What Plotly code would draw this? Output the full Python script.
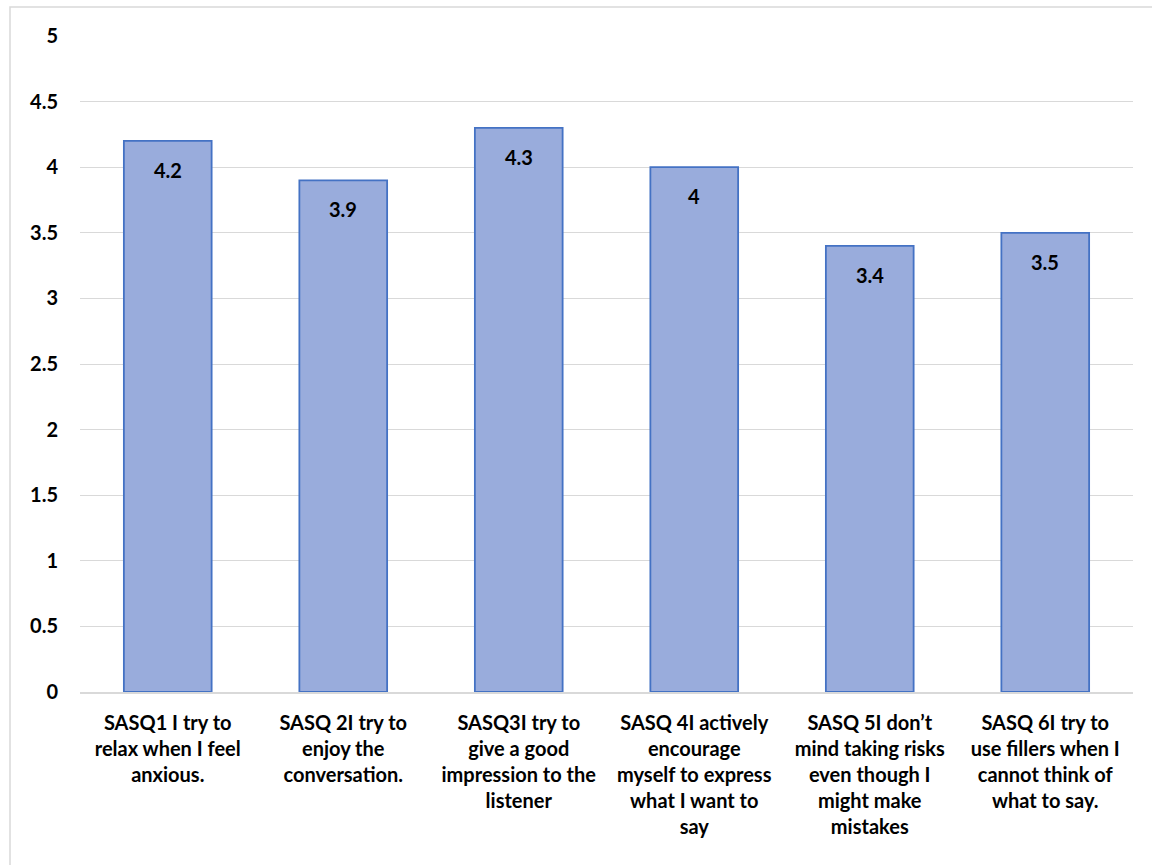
import plotly.graph_objects as go

# Survey items (x categories) and their mean scores
categories = [
    "SASQ1 I try to<br>relax when I feel<br>anxious.",
    "SASQ 2I try to<br>enjoy the<br>conversation.",
    "SASQ3I try to<br>give a good<br>impression to the<br>listener",
    "SASQ 4I actively<br>encourage<br>myself to express<br>what I want to<br>say",
    "SASQ 5I don\u2019t<br>mind taking risks<br>even though I<br>might make<br>mistakes",
    "SASQ 6I try to<br>use fillers when I<br>cannot think of<br>what to say.",
]
scores = [4.2, 3.9, 4.3, 4.0, 3.4, 3.5]
y_ticks = [0, 0.5, 1, 1.5, 2, 2.5, 3, 3.5, 4, 4.5, 5]

FONT = "Lato, 'Liberation Sans', sans-serif"
W, H = 1152, 865
ML, MR, MT, MB = 80, 19, 36, 173

fig = go.Figure(
    go.Bar(
        x=categories,
        y=scores,
        width=0.5,
        marker=dict(color="#99ACDC", line=dict(color="#4472C4", width=1.8)),
        hoverinfo="x+y",
    )
)

# Value labels placed just inside the top of each bar
for cat, val in zip(categories, scores):
    fig.add_annotation(
        x=cat, y=val, text=f"<b>{val:g}</b>", showarrow=False,
        yanchor="middle", yshift=-29,
        font=dict(family=FONT, size=20, color="#000000"),
    )

# Light grey outer chart frame
pw, ph = W - ML - MR, H - MT - MB
fig.add_shape(
    type="rect", xref="paper", yref="paper",
    x0=(10 - ML) / pw, x1=(W + 10 - ML) / pw,
    y0=-(H + 10 - MT - ph) / ph, y1=(H - 7 - MB) / ph,
    line=dict(color="#D9D9D9", width=1.5), fillcolor="rgba(0,0,0,0)",
    layer="below",
)

fig.update_layout(
    width=W, height=H,
    margin=dict(l=ML, r=MR, t=MT, b=MB),
    paper_bgcolor="white", plot_bgcolor="white",
    showlegend=False,
    font=dict(family=FONT, color="#000000"),
    bargap=0.5,
)
fig.update_xaxes(
    showgrid=False, showline=True, linecolor="#D9D9D9", linewidth=1.5,
    ticks="", tickfont=dict(family=FONT, size=20, color="#000000", weight="bold"),
    ticklabelstandoff=12,
)
fig.update_yaxes(
    range=[0, 5], tickvals=y_ticks, ticktext=[f"{t:g}" for t in y_ticks],
    showgrid=True, gridcolor="#D9D9D9", gridwidth=1.3,
    zeroline=False, showline=False, ticks="",
    tickfont=dict(family=FONT, size=20, color="#000000", weight="bold"),
    ticklabelstandoff=21,
)

fig.write_html("out.html")
